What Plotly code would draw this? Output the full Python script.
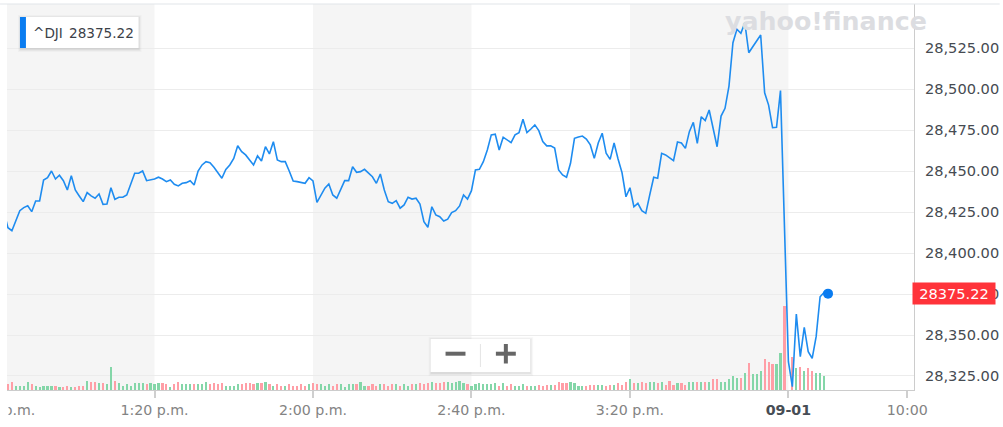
import plotly.graph_objects as go

# ---------------- data ----------------
symbol = "^DJI"
last_price = 28375.22

# Aug 31 session, one close per minute starting 12:42
aug31_start = "12:42"
aug31_close = [
    28425.0, 28415.4, 28413.6, 28419.5, 28425.8, 28427.7, 28428.8, 28425.2, 28431.7, 28431.7,
    28444.5, 28445.9, 28450.0, 28445.1, 28447.4, 28444.1, 28438.4, 28447.1, 28438.4, 28434.8,
    28431.3, 28436.8, 28434.8, 28433.4, 28436.0, 28429.7, 28429.9, 28439.8, 28432.7, 28434.0,
    28434.0, 28435.4, 28442.1, 28448.6, 28448.6, 28450.0, 28444.1, 28444.5, 28445.1, 28446.2,
    28445.1, 28443.5, 28444.5, 28441.9, 28440.9, 28442.5, 28442.9, 28444.1, 28441.5, 28450.0,
    28453.7, 28455.7, 28455.1, 28452.3, 28448.8, 28445.6, 28451.0, 28453.7, 28457.7, 28465.4,
    28461.8, 28459.8, 28456.7, 28453.7, 28459.2, 28456.1, 28464.8, 28460.4, 28467.9, 28456.7,
    28455.7, 28455.7, 28450.0, 28443.9, 28443.5, 28443.1, 28442.5, 28445.9, 28443.9, 28430.9,
    28435.4, 28439.5, 28442.1, 28435.4, 28433.4, 28438.4, 28444.1, 28444.1, 28452.6, 28449.2,
    28449.6, 28451.0, 28448.6, 28446.5, 28442.5, 28448.2, 28438.4, 28431.3, 28430.3, 28431.9,
    28427.3, 28429.3, 28434.0, 28432.9, 28433.4, 28429.9, 28419.1, 28415.7, 28428.2, 28423.2,
    28422.1, 28419.5, 28420.6, 28424.6, 28425.8, 28428.7, 28435.4, 28432.9, 28438.0, 28450.6,
    28451.0, 28455.7, 28462.8, 28472.0, 28472.4, 28462.8, 28470.6, 28468.9, 28467.3, 28472.0,
    28473.4, 28481.5, 28473.4, 28475.6, 28478.1, 28474.6, 28467.9, 28465.3, 28465.3, 28464.0,
    28450.6, 28447.6, 28446.2, 28454.7, 28469.9, 28470.7, 28471.3, 28469.5, 28465.9, 28457.7,
    28467.1, 28473.0, 28460.8, 28457.1, 28467.1, 28457.3, 28449.0, 28434.3, 28439.8, 28428.2,
    28430.3, 28425.8, 28424.2, 28435.4, 28446.2, 28445.6, 28460.8, 28459.8, 28457.9, 28456.3,
    28467.7, 28467.1, 28463.8, 28474.0, 28479.7, 28466.9, 28483.1, 28480.7, 28487.2, 28475.0,
    28464.8, 28483.5, 28488.2, 28501.8, 28528.2, 28536.4, 28534.0, 28540.4, 28522.1, 28525.8,
    28529.3, 28532.9, 28497.7, 28490.2, 28476.4, 28476.6, 28499.0, 28416.0,
]
# volume per minute, millions of shares
aug31_volume_m = [
    0.43, 0.57, 0.80, 0.43, 0.43, 0.43, 0.80, 0.60, 0.43, 0.30,
    0.43, 0.43, 0.43, 0.43, 0.30, 0.30, 0.43, 0.30, 0.30, 0.43,
    0.43, 0.93, 0.83, 0.80, 0.70, 0.70, 0.60, 2.33, 0.93, 0.70,
    0.43, 0.57, 0.43, 0.70, 0.70, 0.70, 0.57, 0.70, 0.57, 0.70,
    0.70, 0.57, 0.30, 0.60, 0.80, 0.57, 0.57, 0.57, 0.57, 0.57,
    0.57, 0.80, 0.57, 0.70, 0.57, 0.70, 0.43, 0.43, 0.43, 0.57,
    0.57, 0.70, 0.70, 0.57, 0.70, 0.70, 0.80, 0.57, 0.43, 0.57,
    0.43, 0.43, 0.57, 0.43, 0.43, 0.57, 0.43, 0.57, 0.70, 0.57,
    0.57, 0.43, 0.57, 0.43, 0.57, 0.57, 0.30, 0.57, 0.57, 0.57,
    0.80, 0.43, 0.43, 0.57, 0.43, 0.57, 0.57, 0.43, 0.57, 0.57,
    0.43, 0.57, 0.43, 0.57, 0.57, 0.70, 0.57, 0.70, 0.80, 0.70,
    0.70, 0.80, 0.80, 0.70, 0.80, 0.93, 0.70, 0.57, 0.43, 0.57,
    0.70, 0.57, 0.57, 0.57, 0.70, 0.43, 0.70, 0.43, 0.57, 0.43,
    0.43, 0.57, 0.43, 0.40, 0.40, 0.53, 0.40, 0.53, 0.53, 0.53,
    0.80, 0.67, 0.67, 0.80, 0.67, 0.40, 0.40, 0.40, 0.53, 0.53,
    0.53, 0.53, 0.40, 0.53, 0.53, 0.67, 0.53, 0.80, 1.07, 0.67,
    0.67, 0.80, 0.67, 0.80, 0.80, 0.67, 0.80, 0.53, 0.93, 0.53,
    0.67, 0.67, 0.53, 0.80, 0.80, 0.80, 0.80, 0.80, 0.80, 1.07,
    1.07, 0.80, 0.80, 1.07, 1.40, 1.20, 1.20, 1.67, 2.73, 1.60,
    1.60, 1.93, 3.07, 2.80, 2.60, 2.60, 3.73, 8.40,
]

# Sep 01 session, one close per minute starting 09:30
sep01_start = "09:30"
sep01_close = [28333.7, 28318.5, 28362.8, 28336.8, 28354.7, 28339.8,
               28335.8, 28349.0, 28373.3, 28375.9, 28375.22]
sep01_volume_m = [0.0, 3.33, 2.17, 2.33, 1.93, 2.17, 1.93, 1.73, 1.73, 1.40, 0.0]

price_ticks = [28325, 28350, 28375, 28400, 28425, 28450, 28475, 28500, 28525]
time_ticks = [("aug31", "12:40"), ("aug31", "13:20"), ("aug31", "14:00"),
              ("aug31", "14:40"), ("aug31", "15:20"), ("sep01", "09:30"), ("sep01", "10:00")]
time_tick_labels = ["12:40 p.m.", "1:20 p.m.", "2:00 p.m.", "2:40 p.m.", "3:20 p.m.",
                    "09-01", "10:00"]
view_start = ("aug31", "12:42:46")
view_end = ("sep01", "10:01:42")
price_range = [28316.46, 28551.83]

# ---------------- trading-time scale ----------------
def minutes_of_day(hhmm):
    parts = [float(p) for p in hhmm.split(":")]
    return parts[0] * 60 + parts[1] + (parts[2] / 60 if len(parts) > 2 else 0)

def trading_pos(session, hhmm):
    m = minutes_of_day(hhmm)
    if session == "aug31":
        return m - 12 * 60          # minutes after noon
    return 240 + (m - (9 * 60 + 30))  # continue after the 16:00 close

aug31_x = [trading_pos("aug31", aug31_start) + i for i in range(len(aug31_close))]
sep01_x = [trading_pos("sep01", sep01_start) + i for i in range(len(sep01_close))]
xs = aug31_x + sep01_x
closes = aug31_close + sep01_close
volumes = aug31_volume_m + sep01_volume_m

UP, DOWN = "#84d6a8", "#ff9ea6"
bar_colors = [UP] + [UP if closes[i] >= closes[i - 1] else DOWN for i in range(1, len(closes))]

tick_x = [trading_pos(s, t) for s, t in time_ticks]
x_range = [trading_pos(*view_start), trading_pos(*view_end)]

# ---------------- figure ----------------
W, H = 1003, 427
ML, MR, MT, MB = 7, 86, 4, 37
PW, PH = W - ML - MR, H - MT - MB

def px_x(p):
    return (p - ML) / PW

def px_y(p):
    return (H - MB - p) / PH

def data_to_paper_x(v):
    return (v - x_range[0]) / (x_range[1] - x_range[0])

LINE = "#1e8cf0"
FONT = "DejaVu Sans"

fig = go.Figure()
fig.add_trace(go.Bar(x=xs, y=volumes, marker=dict(color=bar_colors, line=dict(width=0)),
                     width=0.55, yaxis="y", hoverinfo="skip", showlegend=False))
fig.add_trace(go.Scatter(x=aug31_x + sep01_x, y=closes, mode="lines",
                         line=dict(color=LINE, width=1.6), yaxis="y2", showlegend=False))
fig.add_trace(go.Scatter(x=[sep01_x[-1]], y=[sep01_close[-1]], mode="markers",
                         marker=dict(color="#0a7cf0", size=10), yaxis="y2",
                         showlegend=False, cliponaxis=False))

shapes = []
# alternating session bands
band_edges = [x_range[0]] + tick_x[1:6]
for i in range(0, len(band_edges) - 1, 2):
    shapes.append(dict(type="rect", xref="x", yref="paper", x0=band_edges[i], x1=band_edges[i + 1],
                       y0=0, y1=1, fillcolor="#f5f5f5", line=dict(width=0), layer="below"))
# top border across the full width
shapes.append(dict(type="line", xref="paper", yref="paper", x0=px_x(0), x1=px_x(W), y0=1, y1=1,
                   line=dict(color="#e2e5ea", width=1.2)))

def shadow_box(x0, y0, x1, y1):
    out = []
    for d, a in [(3, 0.025), (2, 0.035), (1, 0.05)]:
        out.append(dict(type="rect", xref="paper", yref="paper",
                        x0=px_x(x0 - d + 1), x1=px_x(x1 + d), y0=px_y(y1 + d + 1), y1=px_y(y0 - d + 1),
                        fillcolor=f"rgba(0,0,0,{a})", line=dict(width=0), layer="above"))
    out.append(dict(type="rect", xref="paper", yref="paper", x0=px_x(x0), x1=px_x(x1),
                    y0=px_y(y1), y1=px_y(y0), fillcolor="white", line=dict(width=0), layer="above"))
    return out

# legend chip
shapes += shadow_box(20, 17, 139, 48)
shapes.append(dict(type="rect", xref="paper", yref="paper", x0=px_x(20), x1=px_x(26),
                   y0=px_y(48), y1=px_y(17), fillcolor="#0a7cf0", line=dict(width=0), layer="above"))
# zoom buttons
shapes += shadow_box(432, 339, 532, 372)
shapes.append(dict(type="line", xref="paper", yref="paper", x0=px_x(482), x1=px_x(482),
                   y0=px_y(367), y1=px_y(344), line=dict(color="#e4e4e4", width=1), layer="above"))
shapes.append(dict(type="line", xref="paper", yref="paper", x0=px_x(447), x1=px_x(467),
                   y0=px_y(353.7), y1=px_y(353.7), line=dict(color="#666666", width=4), layer="above"))
shapes.append(dict(type="line", xref="paper", yref="paper", x0=px_x(497.5), x1=px_x(517.5),
                   y0=px_y(353.7), y1=px_y(353.7), line=dict(color="#666666", width=4), layer="above"))
shapes.append(dict(type="line", xref="paper", yref="paper", x0=px_x(507.5), x1=px_x(507.5),
                   y0=px_y(363.5), y1=px_y(344), line=dict(color="#666666", width=4), layer="above"))

annotations = [
    dict(text="yahoo!finance", xref="paper", yref="paper", x=px_x(725), y=px_y(21),
         xanchor="left", yanchor="middle", showarrow=False,
         font=dict(family=FONT, size=25.3, color="#dcdde1", weight="bold")),
    dict(text=symbol, xref="paper", yref="paper", x=px_x(31), y=px_y(33),
         xanchor="left", yanchor="middle", showarrow=False,
         font=dict(family=FONT, size=13.6, color="#3c4148")),
    dict(text=f"{last_price:.2f}", xref="paper", yref="paper", x=px_x(67), y=px_y(33),
         xanchor="left", yanchor="middle", showarrow=False,
         font=dict(family=FONT, size=13.6, color="#3c4148")),
    dict(text=f"{last_price:.2f}", xref="paper", yref="y2", x=px_x(915), y=last_price,
         xanchor="left", yanchor="middle", showarrow=False, bgcolor="#ff333a",
         width=78, height=17, borderpad=2,
         font=dict(family=FONT, size=14.6, color="white")),
    # first (mostly hidden) time label, just left of the visible window
    dict(text=time_tick_labels[0], xref="paper", yref="paper", x=data_to_paper_x(tick_x[0]),
         y=0, yshift=-10, xanchor="center", yanchor="top", showarrow=False,
         font=dict(family=FONT, size=14.2, color="#838383")),
    dict(text=" ", xref="paper", yref="paper", x=px_x(0), y=px_y(392),
         xanchor="left", yanchor="top", showarrow=False, bgcolor="white",
         width=7, height=32, borderpad=0),
]

ticktext = [lbl if lbl != "09-01" else "<span style='color:#474d55'><b>09-01</b></span>"
            for lbl in time_tick_labels]

fig.update_layout(
    width=W, height=H, margin=dict(l=ML, r=MR, t=MT, b=MB),
    paper_bgcolor="white", plot_bgcolor="white",
    font=dict(family=FONT),
    bargap=0,
    xaxis=dict(range=x_range, tickvals=tick_x, ticktext=ticktext, ticks="outside",
               ticklen=7, tickwidth=1.5, tickcolor="#cfcfcf", showline=True, linecolor="#cccccc",
               linewidth=1, showgrid=False, zeroline=False,
               tickfont=dict(family=FONT, size=14.2, color="#838383")),
    yaxis=dict(range=[0, max(volumes) * PH / 84], visible=False, showgrid=False, fixedrange=True),
    yaxis2=dict(range=price_range, overlaying="y", side="right", tickvals=price_ticks,
                tickformat=",.2f", showgrid=True, gridcolor="#ececec", gridwidth=1,
                showline=True, linecolor="#cccccc", linewidth=1, zeroline=False,
                ticks="", ticklabelstandoff=7,
                tickfont=dict(family=FONT, size=14.6, color="#464b52")),
    shapes=shapes, annotations=annotations,
)

fig.write_html("out.html")
